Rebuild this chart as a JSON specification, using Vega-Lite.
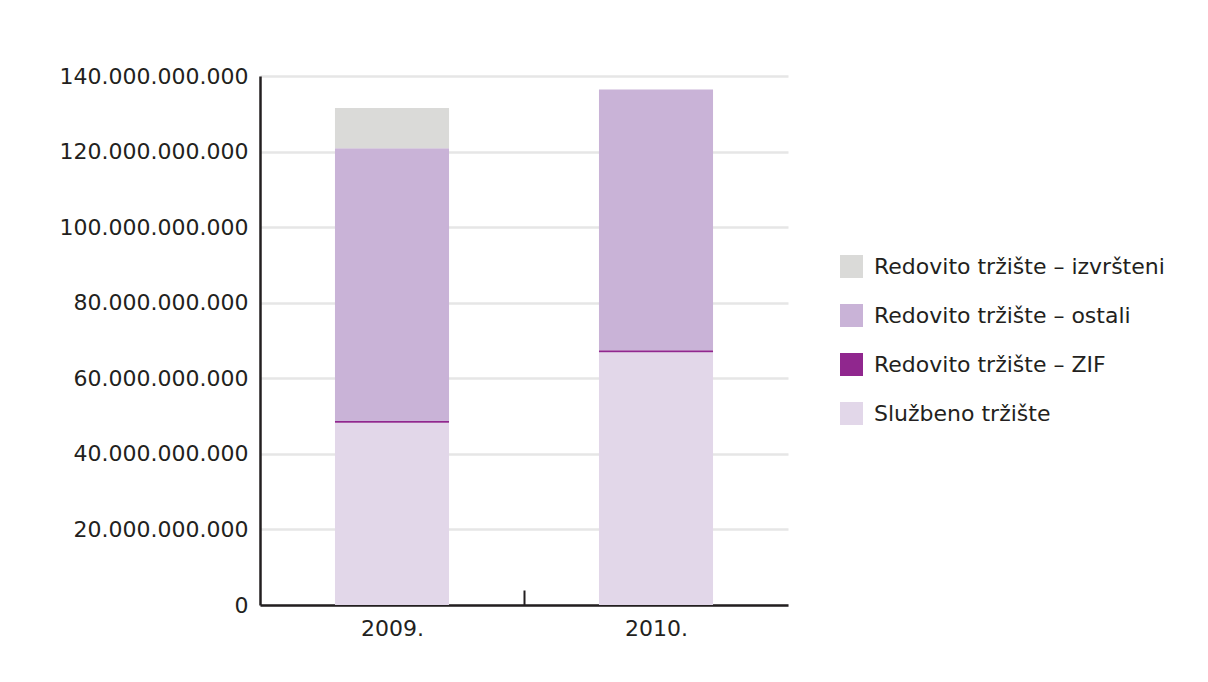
{
  "$schema": "https://vega.github.io/schema/vega-lite/v6.json",
  "autosize": {"type": "none"},
  "width": 528,
  "height": 529,
  "padding": {"left": 260, "top": 76, "right": 420, "bottom": 77},
  "background": "#ffffff",
  "config": {
    "locale": {"number": {"decimal": ",", "thousands": ".", "grouping": [3], "currency": ["", ""]}},
    "font": "DejaVu Sans",
    "view": {"stroke": null}
  },
  "data": {
    "values": [
      {"godina": "2009.", "segment": "Službeno tržište", "rank": 1, "iznos": 48200000000},
      {"godina": "2009.", "segment": "Redovito tržište – ZIF", "rank": 2, "iznos": 500000000},
      {"godina": "2009.", "segment": "Redovito tržište – ostali", "rank": 3, "iznos": 72200000000},
      {"godina": "2009.", "segment": "Redovito tržište – izvršteni", "rank": 4, "iznos": 10600000000},
      {"godina": "2010.", "segment": "Službeno tržište", "rank": 1, "iznos": 66900000000},
      {"godina": "2010.", "segment": "Redovito tržište – ZIF", "rank": 2, "iznos": 500000000},
      {"godina": "2010.", "segment": "Redovito tržište – ostali", "rank": 3, "iznos": 69000000000},
      {"godina": "2010.", "segment": "Redovito tržište – izvršteni", "rank": 4, "iznos": 0}
    ]
  },
  "mark": {"type": "bar"},
  "encoding": {
    "x": {
      "field": "godina",
      "type": "nominal",
      "scale": {"paddingInner": 0.568, "paddingOuter": 0.284},
      "axis": {
        "title": null,
        "labelAngle": 0,
        "labelFontSize": 22,
        "labelColor": "#231f20",
        "labelPadding": 28,
        "labelOffset": -131.5,
        "domainColor": "#231f20",
        "domainWidth": 2.5,
        "tickOffset": 131.5,
        "tickSize": -15,
        "tickWidth": 2,
        "tickColor": "#231f20",
        "tickOpacity": {"condition": {"test": "datum.value === '2009.'", "value": 1}, "value": 0},
        "grid": false
      }
    },
    "y": {
      "field": "iznos",
      "type": "quantitative",
      "stack": "zero",
      "scale": {"domain": [0, 140000000000], "nice": false},
      "axis": {
        "title": null,
        "values": [0, 20000000000, 40000000000, 60000000000, 80000000000, 100000000000, 120000000000, 140000000000],
        "format": ",.0f",
        "labelFontSize": 22,
        "labelColor": "#231f20",
        "labelPadding": 12,
        "labelLimit": 300,
        "ticks": false,
        "domainColor": "#231f20",
        "domainWidth": 2.5,
        "gridColor": "#e6e6e6",
        "gridWidth": 2.5
      }
    },
    "color": {
      "field": "segment",
      "type": "nominal",
      "scale": {
        "domain": ["Redovito tržište – izvršteni", "Redovito tržište – ostali", "Redovito tržište – ZIF", "Službeno tržište"],
        "range": ["#dadad8", "#c9b3d7", "#90278e", "#e2d7e9"]
      },
      "legend": {
        "title": null,
        "orient": "none",
        "legendX": 580,
        "legendY": 179,
        "symbolType": "square",
        "symbolSize": 529,
        "symbolStrokeWidth": 0,
        "symbolOpacity": 1,
        "labelFontSize": 22,
        "labelColor": "#231f20",
        "labelOffset": 11,
        "rowPadding": 26,
        "labelLimit": 400
      }
    },
    "order": {"field": "rank", "type": "quantitative", "sort": "ascending"}
  }
}
